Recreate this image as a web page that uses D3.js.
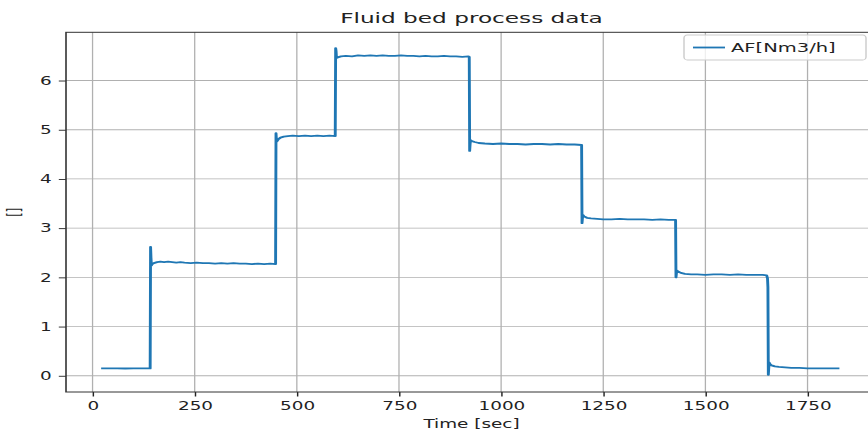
<!DOCTYPE html>
<html>
<head>
<meta charset="utf-8">
<script src="https://cdn.jsdelivr.net/npm/d3@7"></script>
<style>
  html, body { margin: 0; padding: 0; background: #ffffff; }
  svg { display: block; }
</style>
</head>
<body>
<script>
// Fluid bed air flow (AF) logged against process time.
const timeSec = [
  21, 40, 60, 80, 100, 120, 141,
  142, 143, 144, 146, 150, 158, 166, 175, 185, 195, 205, 215, 225, 240, 255, 270, 285,
  300, 315, 330, 345, 360, 375, 390, 405, 420, 435, 448,
  449, 450, 451, 454, 460, 468, 478, 490, 505, 520, 535, 550, 565, 580, 594,
  595, 596, 597, 600, 608, 620, 635, 650, 665, 680, 695, 710, 725, 740, 755, 770, 785,
  800, 815, 830, 845, 860, 875, 890, 905, 920, 922,
  923, 924, 925, 928, 935, 945, 960, 980, 1000, 1020, 1040, 1060, 1080, 1100, 1120,
  1140, 1160, 1180, 1197,
  1198, 1199, 1200, 1203, 1210, 1220, 1235, 1250, 1270, 1290, 1310, 1330, 1350, 1370,
  1390, 1410, 1427,
  1428, 1429, 1430, 1433, 1440, 1450, 1465, 1480, 1500, 1520, 1540, 1560, 1580, 1600,
  1620, 1640, 1650, 1652, 1653,
  1654, 1655, 1656, 1658, 1662, 1670, 1680, 1695, 1710, 1730, 1750, 1770, 1790, 1810, 1828
];
const afNm3h = [
  0.15, 0.15, 0.15, 0.148, 0.15, 0.15, 0.15,
  2.62, 2.40, 2.24, 2.27, 2.29, 2.31, 2.32, 2.31, 2.32, 2.31, 2.30, 2.31, 2.30, 2.29, 2.30, 2.29, 2.29,
  2.28, 2.29, 2.28, 2.29, 2.28, 2.28, 2.27, 2.28, 2.27, 2.28, 2.27,
  4.93, 4.80, 4.76, 4.80, 4.84, 4.86, 4.87, 4.88, 4.87, 4.88, 4.87, 4.88, 4.87, 4.88, 4.87,
  6.66, 6.60, 6.46, 6.47, 6.49, 6.50, 6.49, 6.51, 6.50, 6.51, 6.50, 6.51, 6.50, 6.50, 6.51, 6.50, 6.50,
  6.49, 6.50, 6.49, 6.49, 6.50, 6.49, 6.49, 6.48, 6.49, 6.48,
  4.57, 4.70, 4.79, 4.77, 4.75, 4.73, 4.72, 4.71, 4.72, 4.71, 4.71, 4.70, 4.71, 4.71, 4.70,
  4.71, 4.70, 4.70, 4.69,
  3.10, 3.20, 3.27, 3.24, 3.21, 3.20, 3.19, 3.18, 3.18, 3.19, 3.18, 3.18, 3.18, 3.17,
  3.18, 3.17, 3.17,
  2.00, 2.08, 2.14, 2.12, 2.09, 2.07, 2.06, 2.06, 2.05, 2.06, 2.06, 2.05, 2.06, 2.05,
  2.05, 2.05, 2.04, 1.98, 1.80,
  0.02, 0.15, 0.27, 0.24, 0.21, 0.19, 0.18, 0.17, 0.16, 0.16, 0.15, 0.15, 0.15, 0.15, 0.15
];
const xTickValues = [0, 250, 500, 750, 1000, 1250, 1500, 1750];
const yTickValues = [0, 1, 2, 3, 4, 5, 6];
const seriesName = "AF[Nm3/h]";
const chartTitle = "Fluid bed process data";
const xLabel = "Time [sec]";
const yLabel = "[]";

// The figure is laid out in a narrower frame and widened horizontally.
const SX = 1.6;
const W = 868, H = 434;
const FONT = "'DejaVu Sans', 'Liberation Sans', sans-serif";
const BLUE = "#1f77b4";

const svg = d3.select("body").append("svg")
  .attr("width", W).attr("height", H);
svg.append("rect").attr("width", W).attr("height", H).attr("fill", "#ffffff");

const g = svg.append("g").attr("transform", `scale(${SX},1)`);

const plotLeft = 66 / SX, plotRight = 877 / SX, plotTop = 32.3, plotBottom = 392;

const x = d3.scaleLinear().domain([-65, 1920]).range([plotLeft, plotRight]);
const y = d3.scaleLinear().domain([-0.33, 6.98]).range([plotBottom, plotTop]);

// grid
const grid = g.append("g");
grid.selectAll("line.gx").data(xTickValues).join("line")
  .attr("x1", d => x(d)).attr("x2", d => x(d))
  .attr("y1", plotTop).attr("y2", plotBottom)
  .attr("stroke", "#b0b0b0").attr("stroke-width", 0.8);
grid.selectAll("line.gy").data(yTickValues).join("line")
  .attr("x1", plotLeft).attr("x2", plotRight)
  .attr("y1", d => y(d)).attr("y2", d => y(d))
  .attr("stroke", "#b0b0b0").attr("stroke-width", 0.8);

// series
const pts = timeSec.map((t, i) => [t, afNm3h[i]]);
g.append("path")
  .datum(pts)
  .attr("fill", "none")
  .attr("stroke", BLUE)
  .attr("stroke-width", 1.8)
  .attr("stroke-linejoin", "round")
  .attr("d", d3.line().x(d => x(d[0])).y(d => y(d[1])));

// axes
const xAxis = g.append("g")
  .attr("transform", `translate(0,${plotBottom})`)
  .call(d3.axisBottom(x).tickValues(xTickValues).tickSize(4.5).tickPadding(5).tickFormat(d3.format("d")));
const yAxis = g.append("g")
  .attr("transform", `translate(${plotLeft},0)`)
  .call(d3.axisLeft(y).tickValues(yTickValues).tickSize(4.5).tickPadding(4.5).tickFormat(d3.format("d")));
[xAxis, yAxis].forEach(a => {
  a.select(".domain").remove();
  a.selectAll(".tick line").attr("stroke", "#222").attr("stroke-width", 0.9);
  a.selectAll(".tick text")
    .attr("fill", "#222")
    .style("font-family", FONT)
    .style("font-size", "11.5px");
});

// spines (right edge falls outside the figure)
g.append("rect")
  .attr("x", plotLeft).attr("y", plotTop)
  .attr("width", plotRight - plotLeft).attr("height", plotBottom - plotTop)
  .attr("fill", "none").attr("stroke", "#333").attr("stroke-width", 1);

// title and labels
g.append("text")
  .attr("x", (plotLeft + plotRight) / 2).attr("y", 23)
  .attr("text-anchor", "middle")
  .style("font-family", FONT).style("font-size", "14.5px").attr("fill", "#222")
  .text(chartTitle);
g.append("text")
  .attr("x", (plotLeft + plotRight) / 2).attr("y", 428)
  .attr("text-anchor", "middle")
  .style("font-family", FONT).style("font-size", "11.5px").attr("fill", "#222")
  .text(xLabel);
g.append("text")
  .attr("transform", `translate(${14 / SX},${(plotTop + plotBottom) / 2}) rotate(-90)`)
  .attr("text-anchor", "middle")
  .attr("dominant-baseline", "central")
  .style("font-family", FONT).style("font-size", "11.5px").attr("fill", "#222")
  .text(yLabel);

// legend
const lg = g.append("g");
lg.append("rect")
  .attr("x", 684 / SX).attr("y", 35)
  .attr("width", (866 - 684) / SX).attr("height", 25)
  .attr("rx", 2).attr("ry", 3)
  .attr("fill", "#ffffff").attr("fill-opacity", 0.8)
  .attr("stroke", "#cccccc").attr("stroke-width", 0.9);
lg.append("line")
  .attr("x1", 693 / SX).attr("x2", 725 / SX)
  .attr("y1", 47.5).attr("y2", 47.5)
  .attr("stroke", BLUE).attr("stroke-width", 1.8);
lg.append("text")
  .attr("x", 731 / SX).attr("y", 47.5)
  .attr("dy", "0.36em")
  .style("font-family", FONT).style("font-size", "12.2px").attr("fill", "#222")
  .text(seriesName);
</script>
</body>
</html>
